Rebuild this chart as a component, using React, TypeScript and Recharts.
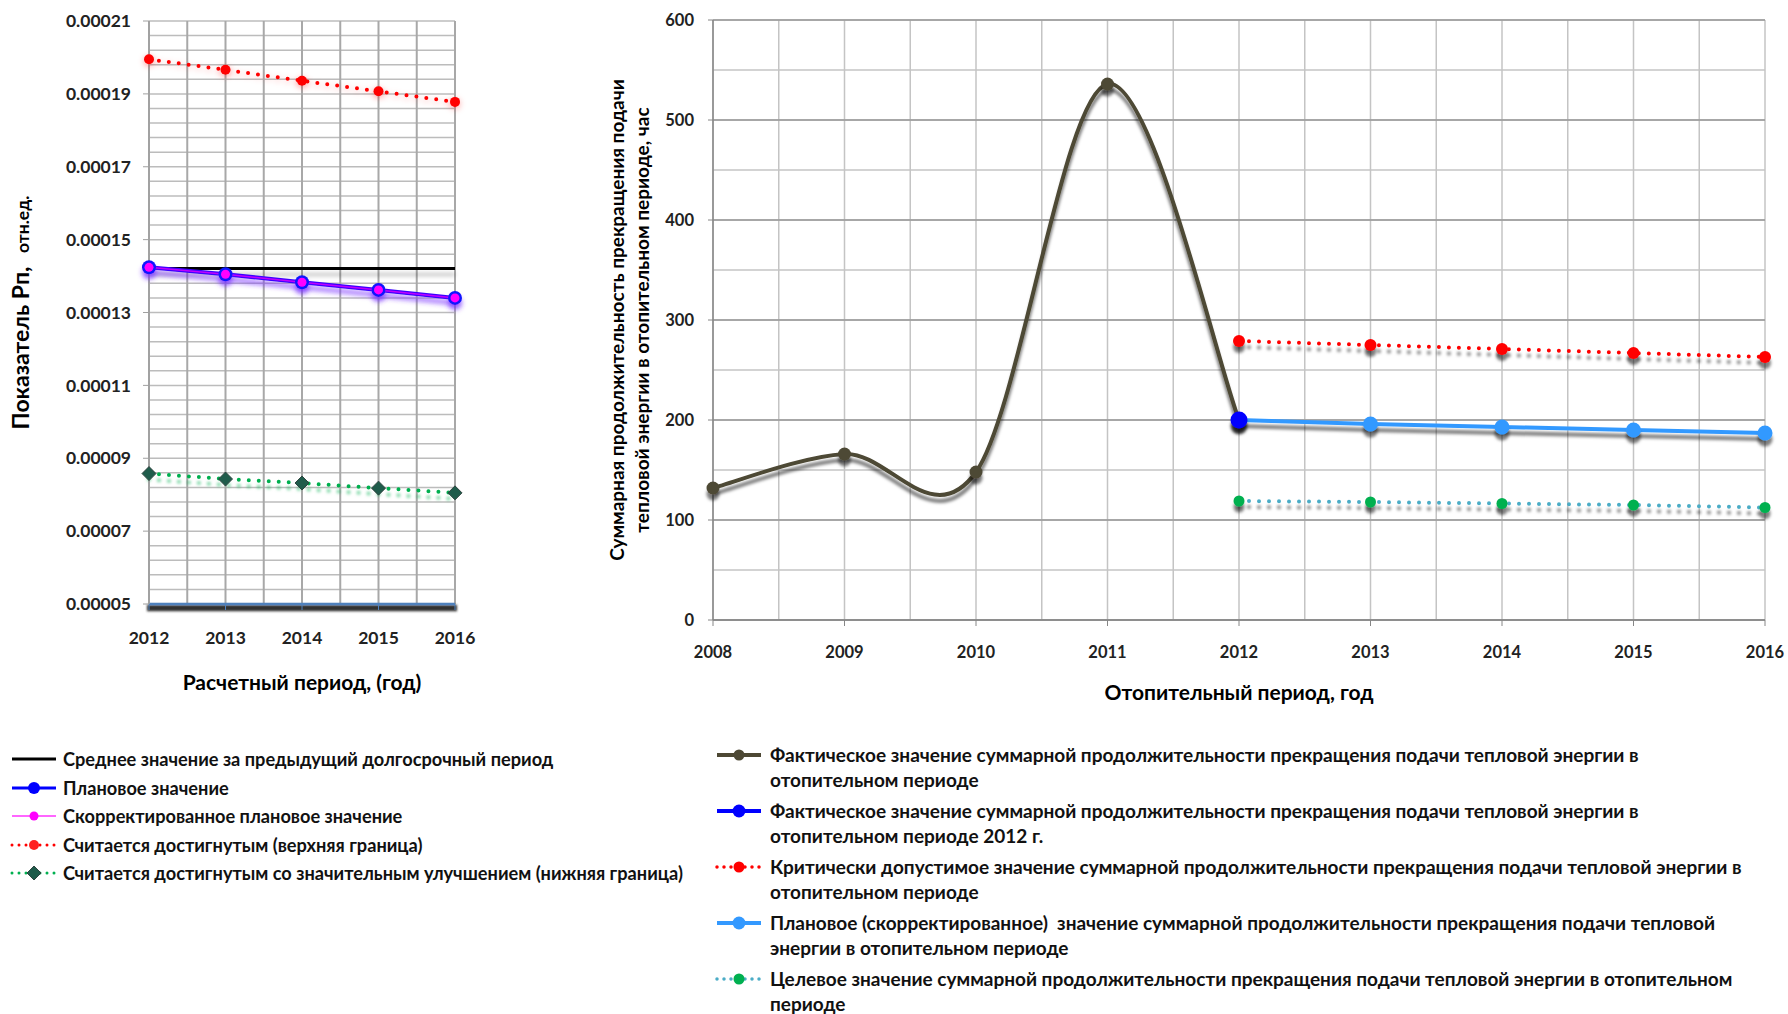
import React from "react";
import { LineChart, Line, XAxis, YAxis, CartesianGrid, Label } from "recharts";

const FONT = "Lato, 'Open Sans', sans-serif";

// left chart: показатель Рп
const LEFT_YEARS = [2012, 2013, 2014, 2015, 2016];
const LEFT_AVERAGE = [0.0001421, 0.0001421, 0.0001421, 0.0001421, 0.0001421];
const LEFT_PLAN = [0.0001424, 0.0001405, 0.0001383, 0.0001362, 0.000134];
const LEFT_CORRECTED = [0.0001424, 0.0001405, 0.0001383, 0.0001362, 0.000134];
const LEFT_UPPER = [0.0001995, 0.0001966, 0.0001936, 0.0001907, 0.0001878];
const LEFT_LOWER = [0.0000858, 0.0000843, 0.0000832, 0.0000818, 0.0000805];
const LEFT_Y_TICKS = [0.00005, 0.00007, 0.00009, 0.00011, 0.00013, 0.00015, 0.00017, 0.00019, 0.00021];

// right chart: продолжительность прекращения подачи, час
const RIGHT_YEARS = [2008, 2009, 2010, 2011, 2012, 2013, 2014, 2015, 2016];
const RIGHT_FACT = [132, 166, 148, 536, 200, null, null, null, null];
const RIGHT_FACT_2012 = [null, null, null, null, 200, null, null, null, null];
const RIGHT_CRITICAL = [null, null, null, null, 279, 275, 271, 267, 263];
const RIGHT_PLAN = [null, null, null, null, 200, 196, 193, 190, 187];
const RIGHT_TARGET = [null, null, null, null, 119, 118, 116.5, 115, 112.5];
const RIGHT_Y_TICKS = [0, 100, 200, 300, 400, 500, 600];

const LEFT_LEGEND = [
  "Среднее значение за предыдущий долгосрочный период",
  "Плановое значение",
  "Скорректированное плановое значение",
  "Считается достигнутым (верхняя граница)",
  "Считается достигнутым со значительным улучшением (нижняя граница)",
];

const RIGHT_LEGEND = [
  ["Фактическое значение суммарной продолжительности прекращения подачи тепловой энергии в", "отопительном периоде"],
  ["Фактическое значение суммарной продолжительности прекращения подачи тепловой энергии в", "отопительном периоде 2012 г."],
  ["Критически допустимое значение суммарной продолжительности прекращения подачи тепловой энергии в", "отопительном периоде"],
  ["Плановое (скорректированное)  значение суммарной продолжительности прекращения подачи тепловой", "энергии в отопительном периоде"],
  ["Целевое значение суммарной продолжительности прекращения подачи тепловой энергии в отопительном", "периоде"],
];

const leftData = LEFT_YEARS.map((year, i) => ({
  year,
  average: LEFT_AVERAGE[i],
  plan: LEFT_PLAN[i],
  corrected: LEFT_CORRECTED[i],
  upper: LEFT_UPPER[i],
  lower: LEFT_LOWER[i],
}));

const rightData = RIGHT_YEARS.map((year, i) => ({
  year,
  fact: RIGHT_FACT[i],
  fact2012: RIGHT_FACT_2012[i],
  critical: RIGHT_CRITICAL[i],
  plan: RIGHT_PLAN[i],
  target: RIGHT_TARGET[i],
}));

// minor grid values
const LEFT_MINOR_Y = Array.from({ length: 41 }, (_, i) => 0.00005 + i * 0.000004);
const LEFT_MINOR_X = Array.from({ length: 9 }, (_, i) => 2012 + i * 0.5);
const RIGHT_MINOR_Y = Array.from({ length: 13 }, (_, i) => i * 50);
const RIGHT_MINOR_X = Array.from({ length: 17 }, (_, i) => 2008 + i * 0.5);

const LEFT_TICK = { fill: "#222", fontSize: 17.5, fontWeight: 700, fontFamily: FONT };
const RIGHT_TICK = { fill: "#222", fontSize: 16.5, fontWeight: 700, fontFamily: FONT };
const TITLE_STYLE = { fontSize: 21, fontWeight: 700, fontFamily: FONT, fill: "#000" };

// Excel-like smoothed line (Catmull-Rom through the points)
const excelSmooth = (context: any) => {
  let pts: number[][] = [];
  return {
    areaStart() {},
    areaEnd() {},
    lineStart() {
      pts = [];
    },
    point(x: number, y: number) {
      pts.push([+x, +y]);
    },
    lineEnd() {
      if (!pts.length) return;
      context.moveTo(pts[0][0], pts[0][1]);
      for (let i = 0; i < pts.length - 1; i++) {
        const p0 = pts[Math.max(i - 1, 0)];
        const p1 = pts[i];
        const p2 = pts[i + 1];
        const p3 = pts[Math.min(i + 2, pts.length - 1)];
        context.bezierCurveTo(
          p1[0] + (p2[0] - p0[0]) / 6,
          p1[1] + (p2[1] - p0[1]) / 6,
          p2[0] - (p3[0] - p1[0]) / 6,
          p2[1] - (p3[1] - p1[1]) / 6,
          p2[0],
          p2[1],
        );
      }
    },
  };
};

const diamondDot = (props: any) => {
  const { cx, cy, index } = props;
  if (cx == null || cy == null) return <g key={`dm-${index}`} />;
  const s = 7;
  return (
    <path
      key={`dm-${index}`}
      d={`M${cx},${cy - s}L${cx + s},${cy}L${cx},${cy + s}L${cx - s},${cy}Z`}
      fill="#1f5c4b"
      stroke="#2f4540"
      strokeWidth={1}
    />
  );
};

// user-space region so flat lines (zero-height bbox) still render
function Shadow({ id, dy, blur, color, opacity }: any) {
  return (
    <filter id={id} filterUnits="userSpaceOnUse" x={0} y={0} width={1400} height={800}>
      <feDropShadow dx={0} dy={dy} stdDeviation={blur} floodColor={color} floodOpacity={opacity} />
    </filter>
  );
}

function LeftChart() {
  return (
    <div style={{ position: "absolute", left: 0, top: 0 }}>
      <LineChart width={500} height={720} data={leftData} margin={{ top: 21, right: 45, bottom: 0, left: 0 }}>
        <defs>
          <Shadow id="redGlow" dy={2} blur={3} color="#ff2020" opacity={0.35} />
          <Shadow id="purpleGlow" dy={5} blur={2.5} color="#7a30ff" opacity={0.75} />
          <Shadow id="greenGlow" dy={6} blur={1.5} color="#00b050" opacity={0.55} />
          <Shadow id="grayShadow" dy={6} blur={2} color="#000" opacity={0.25} />
          <filter id="axisShadow" filterUnits="userSpaceOnUse" x={0} y={0} width={500} height={720}>
            <feMorphology in="SourceAlpha" operator="dilate" radius="2" result="thick" />
            <feOffset in="thick" dy={4} result="off" />
            <feGaussianBlur in="off" stdDeviation={1.2} result="blur" />
            <feFlood floodColor="#333" />
            <feComposite in2="blur" operator="in" result="shadow" />
            <feMerge>
              <feMergeNode in="shadow" />
              <feMergeNode in="SourceGraphic" />
            </feMerge>
          </filter>
        </defs>
        <CartesianGrid
          horizontalValues={LEFT_MINOR_Y}
          vertical={false}
          stroke="#bcbcbc"
          strokeWidth={1.5}
        />
        <CartesianGrid
          verticalValues={LEFT_MINOR_X}
          horizontal={false}
          stroke="#a8a8a8"
          strokeWidth={2}
        />
        <XAxis
          dataKey="year"
          type="number"
          domain={[2012, 2016]}
          ticks={LEFT_YEARS}
          interval={0}
          height={116}
          tick={LEFT_TICK}
          tickSize={6}
          tickMargin={22}
          axisLine={{ stroke: "#4f81bd", strokeWidth: 2.5, filter: "url(#axisShadow)" }}
          tickLine={{ stroke: "#4f81bd" }}
        >
          <Label value="Расчетный период, (год)" position="insideTop" offset={71} style={TITLE_STYLE} />
        </XAxis>
        <YAxis
          type="number"
          domain={[0.00005, 0.00021]}
          ticks={LEFT_Y_TICKS}
          interval={0}
          width={149}
          tick={LEFT_TICK}
          tickSize={6}
          tickMargin={12}
          tickFormatter={(v: number) => v.toFixed(5)}
          axisLine={{ stroke: "#a0a0a0", strokeWidth: 1.5 }}
          tickLine={{ stroke: "#a0a0a0" }}
        >
          <Label
            content={({ viewBox }: any) => {
              const { x, y, height } = viewBox;
              return (
                <text
                  transform={`translate(${x + 29}, ${y + height / 2}) rotate(-90)`}
                  textAnchor="middle"
                  fontFamily={FONT}
                  fontWeight={700}
                  fill="#000"
                >
                  <tspan fontSize={23}>Показатель Рп, </tspan>
                  <tspan fontSize={17.5} dx={8}>отн.ед.</tspan>
                </text>
              );
            }}
          />
        </YAxis>
        <Line
          dataKey="lower"
          stroke="#00b050"
          strokeWidth={4}
          strokeDasharray="0 10"
          strokeLinecap="round"
          filter="url(#greenGlow)"
          dot={diamondDot}
          isAnimationActive={false}
        />
        <Line
          dataKey="upper"
          stroke="#ff0000"
          strokeWidth={4}
          strokeDasharray="0 10"
          strokeLinecap="round"
          filter="url(#redGlow)"
          dot={{ r: 5, fill: "#ff0000", stroke: "none", filter: "url(#redGlow)" }}
          isAnimationActive={false}
        />
        <Line
          dataKey="average"
          stroke="#000"
          strokeWidth={3}
          filter="url(#grayShadow)"
          dot={false}
          isAnimationActive={false}
        />
        <Line
          dataKey="plan"
          stroke="#3a00ff"
          strokeWidth={4}
          filter="url(#purpleGlow)"
          dot={{ r: 7, fill: "#0a14ff", stroke: "none", filter: "url(#purpleGlow)" }}
          isAnimationActive={false}
        />
        <Line
          dataKey="corrected"
          stroke="#c000ff"
          strokeWidth={1.5}
          dot={{ r: 4.5, fill: "#ff00ff", stroke: "none" }}
          isAnimationActive={false}
        />
      </LineChart>
    </div>
  );
}

function RightChart() {
  return (
    <div style={{ position: "absolute", left: 540, top: 0 }}>
      <LineChart width={1248} height={720} data={rightData} margin={{ top: 20, right: 23, bottom: 0, left: 103 }}>
        <defs>
          <Shadow id="darkShadow" dy={6} blur={1.8} color="#000" opacity={0.5} />
        </defs>
        <CartesianGrid
          horizontalValues={RIGHT_MINOR_Y}
          verticalValues={RIGHT_MINOR_X}
          stroke="#c4c4c4"
          strokeWidth={1.5}
        />
        <CartesianGrid vertical={false} stroke="#989898" strokeWidth={1.5} />
        <XAxis
          dataKey="year"
          type="number"
          domain={[2008, 2016]}
          ticks={RIGHT_YEARS}
          interval={0}
          height={100}
          tick={RIGHT_TICK}
          tickSize={6}
          tickMargin={20}
          axisLine={{ stroke: "#868686", strokeWidth: 1.5 }}
          tickLine={{ stroke: "#868686" }}
        >
          <Label value="Отопительный период, год" position="insideTop" offset={65} style={TITLE_STYLE} />
        </XAxis>
        <YAxis
          type="number"
          domain={[0, 600]}
          ticks={RIGHT_Y_TICKS}
          interval={0}
          width={70}
          tick={RIGHT_TICK}
          tickSize={5}
          tickMargin={14}
          axisLine={{ stroke: "#868686", strokeWidth: 1.5 }}
          tickLine={{ stroke: "#868686" }}
        >
          <Label
            content={({ viewBox }: any) => {
              const { x, y, height } = viewBox;
              return (
                <text
                  transform={`translate(${x - 19}, ${y + height / 2}) rotate(-90)`}
                  textAnchor="middle"
                  fontFamily={FONT}
                  fontWeight={700}
                  fontSize={19}
                  fill="#000"
                >
                  <tspan x={0} y={0}>Суммарная продолжительность прекращения подачи</tspan>
                  <tspan x={0} y={25}>тепловой энергии в отопительном периоде, час</tspan>
                </text>
              );
            }}
          />
        </YAxis>
        <Line
          dataKey="target"
          stroke="#4bacc6"
          strokeWidth={4}
          strokeDasharray="0 10"
          strokeLinecap="round"
          filter="url(#darkShadow)"
          dot={{ r: 5.5, fill: "#00b050", stroke: "none", filter: "url(#darkShadow)" }}
          isAnimationActive={false}
        />
        <Line
          dataKey="critical"
          stroke="#ff0000"
          strokeWidth={4}
          strokeDasharray="0 10"
          strokeLinecap="round"
          filter="url(#darkShadow)"
          dot={{ r: 6, fill: "#ff0000", stroke: "none", filter: "url(#darkShadow)" }}
          isAnimationActive={false}
        />
        <Line
          dataKey="plan"
          stroke="#3399ff"
          strokeWidth={4}
          filter="url(#darkShadow)"
          dot={{ r: 7.5, fill: "#3399ff", stroke: "none", filter: "url(#darkShadow)" }}
          isAnimationActive={false}
        />
        <Line
          dataKey="fact"
          type={excelSmooth as any}
          stroke="#4d4834"
          strokeWidth={4}
          filter="url(#darkShadow)"
          dot={{ r: 6.5, fill: "#4d4834", stroke: "none", filter: "url(#darkShadow)" }}
          isAnimationActive={false}
        />
        <Line
          dataKey="fact2012"
          stroke="#0000ff"
          strokeWidth={4}
          dot={{ r: 8.5, fill: "#0000ff", stroke: "none", filter: "url(#darkShadow)" }}
          isAnimationActive={false}
        />
      </LineChart>
    </div>
  );
}

// legend icons: line + marker, 50px wide
function LegendIcon({ color, width, dotted, marker, markerColor, r }: any) {
  return (
    <svg width={50} height={16} style={{ flex: "none" }}>
      <line
        x1={3}
        y1={8}
        x2={47}
        y2={8}
        stroke={color}
        strokeWidth={width}
        strokeDasharray={dotted ? "0 7" : undefined}
        strokeLinecap={dotted ? "round" : "butt"}
      />
      {marker === "circle" && <circle cx={25} cy={8} r={r} fill={markerColor} />}
      {marker === "diamond" && <path d="M25,1L32,8L25,15L18,8Z" fill={markerColor} stroke="#2f4540" />}
    </svg>
  );
}

const LEFT_ICONS = [
  { color: "#000", width: 3 },
  { color: "#0000ff", width: 3, marker: "circle", markerColor: "#0000ff", r: 6 },
  { color: "#ff33ff", width: 1.5, marker: "circle", markerColor: "#ff00ff", r: 4.5 },
  { color: "#ff0000", width: 3, dotted: true, marker: "circle", markerColor: "#ff2020", r: 5 },
  { color: "#00b050", width: 3, dotted: true, marker: "diamond", markerColor: "#1f5c4b" },
];

const RIGHT_ICONS = [
  { color: "#4d4834", width: 4, marker: "circle", markerColor: "#4d4834", r: 5.5 },
  { color: "#0000ff", width: 4, marker: "circle", markerColor: "#0000ff", r: 6.5 },
  { color: "#ff0000", width: 3.5, dotted: true, marker: "circle", markerColor: "#ff0000", r: 5.5 },
  { color: "#3399ff", width: 4, marker: "circle", markerColor: "#3399ff", r: 6.5 },
  { color: "#4bacc6", width: 3.5, dotted: true, marker: "circle", markerColor: "#00b050", r: 5.5 },
];

function LeftLegend() {
  return (
    <div style={{ position: "absolute", left: 9, top: 745, fontFamily: FONT, fontWeight: 700, fontSize: 18.2, color: "#111" }}>
      {LEFT_LEGEND.map((label, i) => (
        <div key={label} style={{ display: "flex", alignItems: "center", height: 28.5, whiteSpace: "nowrap" }}>
          <LegendIcon {...LEFT_ICONS[i]} />
          <span style={{ marginLeft: 4 }}>{label}</span>
        </div>
      ))}
    </div>
  );
}

function RightLegend() {
  return (
    <div style={{ position: "absolute", left: 714, top: 743, fontFamily: FONT, fontWeight: 700, fontSize: 19, color: "#111" }}>
      {RIGHT_LEGEND.map((lines, i) => (
        <div key={i} style={{ display: "flex", alignItems: "flex-start", height: 56, lineHeight: "24.5px", whiteSpace: "pre" }}>
          <div style={{ height: 24.5, display: "flex", alignItems: "center" }}>
            <LegendIcon {...RIGHT_ICONS[i]} />
          </div>
          <div style={{ marginLeft: 6 }}>
            {lines[0]}
            <br />
            {lines[1]}
          </div>
        </div>
      ))}
    </div>
  );
}

export default function App() {
  return (
    <div style={{ position: "absolute", left: 0, top: 0, width: 1788, height: 1014, background: "#fff", overflow: "hidden" }}>
      <LeftChart />
      <RightChart />
      <LeftLegend />
      <RightLegend />
    </div>
  );
}
